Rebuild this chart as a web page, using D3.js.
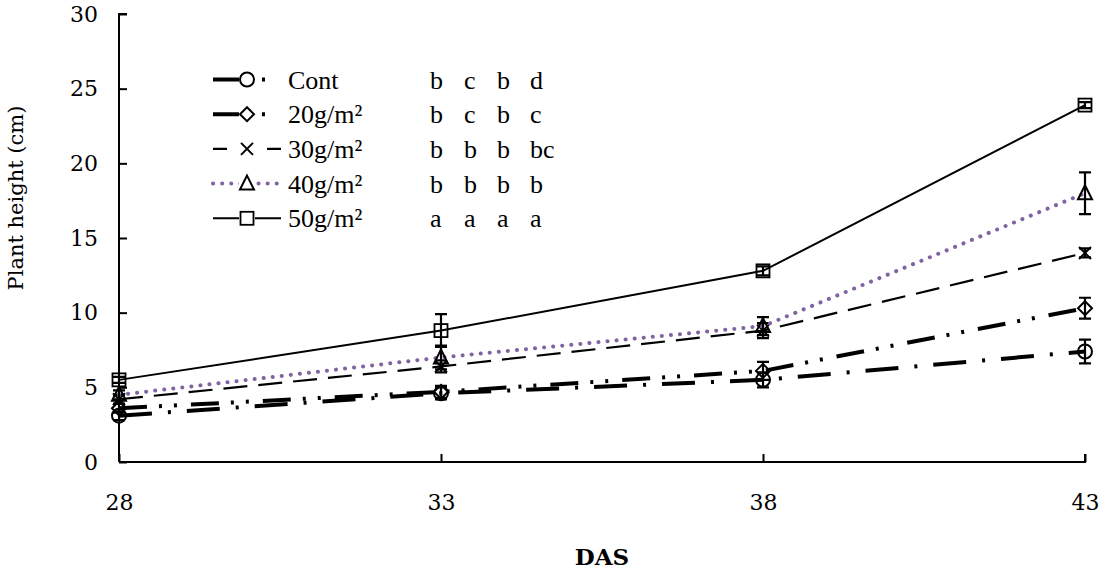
<!DOCTYPE html>
<html>
<head>
<meta charset="utf-8">
<script src="https://cdn.jsdelivr.net/npm/d3@7"></script>
<style>
  body { margin: 0; background: #fff; }
  svg { display: block; }
</style>
</head>
<body>
<svg id="chart" width="1099" height="572"></svg>
<script>
// sampling days (days after sowing)
const days = [28, 33, 38, 43];
const yTicks = [0, 5, 10, 15, 20, 25, 30];

const seriesNames = ["Cont", "20g/m²", "30g/m²", "40g/m²", "50g/m²"];
const contMean = [3.1, 4.6, 5.5, 7.4];
const contErr  = [0.3, 0.4, 0.5, 0.8];
const g20Mean  = [3.6, 4.7, 6.1, 10.3];
const g20Err   = [0.3, 0.4, 0.6, 0.7];
const g30Mean  = [4.2, 6.4, 8.8, 14.0];
const g30Err   = [0.3, 0.4, 0.5, 0.3];
const g40Mean  = [4.5, 7.0, 9.1, 18.0];
const g40Err   = [0.3, 0.8, 0.6, 1.4];
const g50Mean  = [5.5, 8.8, 12.8, 23.9];
const g50Err   = [0.2, 1.1, 0.3, 0.2];

// significance letters per treatment, one per sampling day
const sigLetters = [
  ["b", "c", "b", "d"],
  ["b", "c", "b", "c"],
  ["b", "b", "b", "bc"],
  ["b", "b", "b", "b"],
  ["a", "a", "a", "a"]
];

// line looks; legendDash is the short sample drawn in the key
const styles = [
  { color: "#000", width: 4, dash: "33,16,3,16", legendDash: "27,22,3,40", cap: "butt", marker: "circle" },
  { color: "#000", width: 4, dash: "28,12,3,12,3,14", legendDash: "27,22,3,40", cap: "butt", marker: "diamond" },
  { color: "#000", width: 2.2, dash: "24,11", legendDash: "14,40,14", cap: "butt", marker: "cross" },
  { color: "#8064A2", width: 4, dash: "0.1,9", legendDash: "0.1,9", cap: "round", marker: "triangle" },
  { color: "#000", width: 2, dash: null, legendDash: null, cap: "butt", marker: "square" }
];

const series = [
  { mean: contMean, err: contErr },
  { mean: g20Mean, err: g20Err },
  { mean: g30Mean, err: g30Err },
  { mean: g40Mean, err: g40Err },
  { mean: g50Mean, err: g50Err }
];

const svg = d3.select("#chart");

const x = d3.scaleLinear().domain([28, 43]).range([119, 1085]);
const y = d3.scaleLinear().domain([0, 30]).range([462, 14]);

const times = "Liberation Serif";
const century = "DejaVu Serif";

// axes, ticks point inward
const yAxis = d3.axisLeft(y).tickValues(yTicks).tickSize(-8).tickPadding(21);
const gy = svg.append("g").attr("transform", `translate(${x(28)},0)`).call(yAxis);
gy.select(".domain").attr("stroke", "#000").attr("stroke-width", 2).attr("d", `M8,${y(30)}H0V${y(0)}`);
gy.selectAll(".tick line").attr("stroke", "#000").attr("stroke-width", 2);
gy.selectAll(".tick text").attr("font-family", century).attr("font-size", 22).attr("fill", "#000");

const xAxis = d3.axisBottom(x).tickValues(days).tickSize(-8).tickPadding(32);
const gx = svg.append("g").attr("transform", `translate(0,${y(0)})`).call(xAxis);
gx.select(".domain").attr("stroke", "#000").attr("stroke-width", 2).attr("d", `M${x(28)},0H${x(43)}V-8`);
gx.selectAll(".tick line").attr("stroke", "#000").attr("stroke-width", 2);
gx.selectAll(".tick text").attr("font-family", century).attr("font-size", 22).attr("fill", "#000");

svg.append("text")
  .attr("x", (x(28) + x(43)) / 2).attr("y", 565)
  .attr("text-anchor", "middle")
  .attr("font-family", century).attr("font-weight", "bold").attr("font-size", 23)
  .text("DAS");

svg.append("text")
  .attr("transform", `translate(23,198) rotate(-90)`)
  .attr("text-anchor", "middle")
  .attr("font-family", century).attr("font-size", 21)
  .text("Plant height (cm)");

// marker shapes
function drawMarker(g, type, cx, cy, color) {
  const s = 7;
  if (type === "circle") {
    g.append("circle").attr("cx", cx).attr("cy", cy).attr("r", s)
      .attr("fill", "none").attr("stroke", color).attr("stroke-width", 2);
  } else if (type === "diamond") {
    g.append("path").attr("d", `M${cx},${cy - s}L${cx + s},${cy}L${cx},${cy + s}L${cx - s},${cy}Z`)
      .attr("fill", "none").attr("stroke", color).attr("stroke-width", 2);
  } else if (type === "cross") {
    g.append("path").attr("d", `M${cx - 6},${cy - 6}L${cx + 6},${cy + 6}M${cx - 6},${cy + 6}L${cx + 6},${cy - 6}`)
      .attr("fill", "none").attr("stroke", color).attr("stroke-width", 2);
  } else if (type === "triangle") {
    g.append("path").attr("d", `M${cx},${cy - 8}L${cx + 7},${cy + 6}L${cx - 7},${cy + 6}Z`)
      .attr("fill", "none").attr("stroke", color).attr("stroke-width", 2);
  } else if (type === "square") {
    g.append("rect").attr("x", cx - 6.5).attr("y", cy - 6.5).attr("width", 13).attr("height", 13)
      .attr("fill", "none").attr("stroke", color).attr("stroke-width", 1.8);
  }
}

const line = d3.line().x(d => x(d[0])).y(d => y(d[1]));
const plot = svg.append("g");

series.forEach((s, i) => {
  const st = styles[i];
  const pts = days.map((d, j) => [d, s.mean[j]]);
  const g = plot.append("g");
  g.append("path")
    .attr("d", line(pts))
    .attr("fill", "none")
    .attr("stroke", st.color)
    .attr("stroke-width", st.width)
    .attr("stroke-linecap", st.cap)
    .attr("stroke-dasharray", st.dash);
  // error bars
  days.forEach((d, j) => {
    const cx = x(d), y0 = y(s.mean[j] - s.err[j]), y1 = y(s.mean[j] + s.err[j]);
    g.append("path")
      .attr("d", `M${cx},${y0}V${y1}M${cx - 6},${y0}H${cx + 6}M${cx - 6},${y1}H${cx + 6}`)
      .attr("fill", "none").attr("stroke", "#000").attr("stroke-width", 2.2);
  });
  days.forEach((d, j) => drawMarker(g, st.marker, x(d), y(s.mean[j]), "#000"));
});

// legend with significance letters
const legend = svg.append("g");
const letterX = [430, 464, 497, 530];
seriesNames.forEach((name, i) => {
  const st = styles[i];
  const ly = 79.5 + i * 34.7;
  legend.append("path")
    .attr("d", `M213,${ly}H281`)
    .attr("fill", "none")
    .attr("stroke", st.color)
    .attr("stroke-width", st.width)
    .attr("stroke-linecap", st.cap)
    .attr("stroke-dasharray", st.legendDash);
  legend.append("rect").attr("x", 239).attr("y", ly - 8).attr("width", 16).attr("height", 16).attr("fill", "#fff");
  drawMarker(legend, st.marker, 247, ly, "#000");
  legend.append("text")
    .attr("x", 288).attr("y", ly + 9)
    .attr("font-family", times).attr("font-size", 26)
    .text(name);
  sigLetters[i].forEach((l, j) => {
    legend.append("text")
      .attr("x", letterX[j]).attr("y", ly + 9)
      .attr("font-family", times).attr("font-size", 26)
      .text(l);
  });
});
</script>
</body>
</html>
